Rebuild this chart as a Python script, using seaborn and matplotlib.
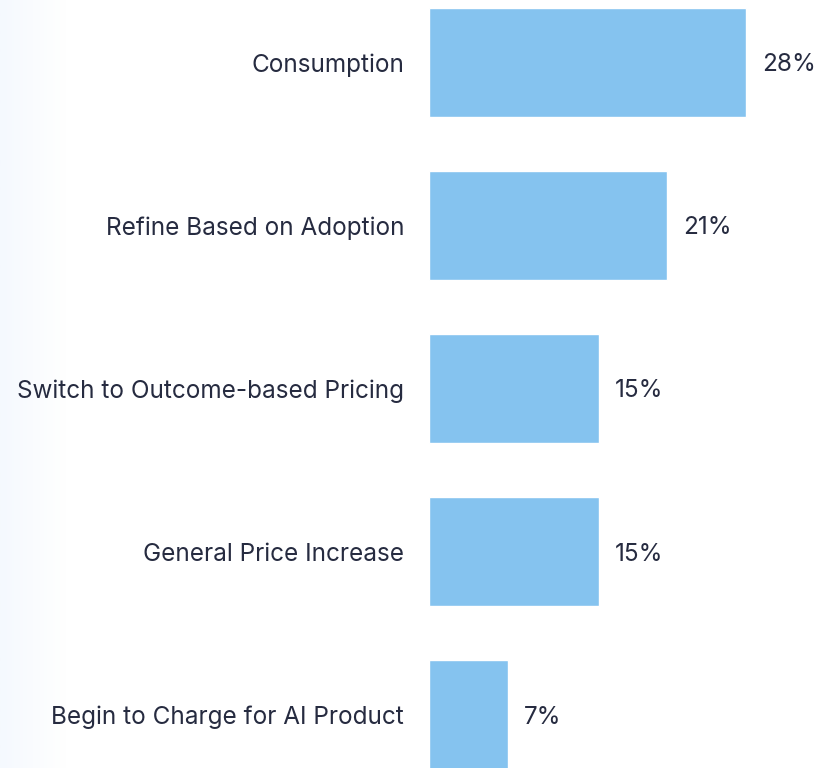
import numpy as np
import pandas as pd
import seaborn as sns
import matplotlib.pyplot as plt

# data
categories = ["Consumption", "Refine Based on Adoption", "Switch to Outcome-based Pricing",
              "General Price Increase", "Begin to Charge for AI Product"]
shares = [28, 21, 15, 15, 7]
value_labels = ["28%", "21%", "15%", "15%", "7%"]

df = pd.DataFrame({"Category": categories, "Share": shares})

sns.set_theme(style="white")
plt.rcParams['font.family'] = ['Inter', 'DejaVu Sans']

text_color = "#262B40"
bar_color = "#85C3EF"

fig = plt.figure(figsize=(8.32, 7.68), dpi=100)

# faint blue fade on the left edge
bg = fig.add_axes([0, 0, 0.08, 1], zorder=-1)
bg.imshow(np.linspace(0, 1, 64)[None, :], aspect="auto",
          cmap=sns.blend_palette(["#F5F9FE", "#FFFFFF"], as_cmap=True),
          extent=[0, 1, 0, 1])
bg.axis("off")

ax = fig.add_axes([429 / 832, 0, 340 / 832, 1])
ax.patch.set_alpha(0)
sns.barplot(data=df, x="Share", y="Category", color=bar_color, width=0.67,
            saturation=1, ax=ax, orient="h")

ax.set_xlim(0, 340 / 11.32)
ax.set_ylim(4.328, -0.383)
ax.set_xlabel("")
ax.set_ylabel("")
ax.set_xticks([])
sns.despine(ax=ax, left=True, bottom=True)
ax.tick_params(axis="y", length=0, pad=18, labelsize=17.5, labelcolor=text_color)

for i, (v, lab) in enumerate(zip(shares, value_labels)):
    ax.annotate(lab, (v, i), xytext=(11.5, 0), textcoords="offset points",
                va="center_baseline", ha="left", fontsize=17.5, color=text_color)

fig.savefig("out.png", dpi=100)
